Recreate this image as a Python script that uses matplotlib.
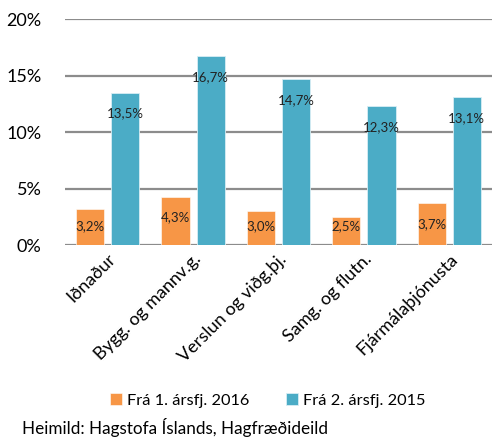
import numpy as np
from matplotlib import pyplot as plt

plt.rcParams['font.family'] = ['Lato', 'DejaVu Sans']

categories = ["Iðnaður", "Bygg. og mannv.g.", "Verslun og viðg.þj.",
              "Samg. og flutn.", "Fjármálaþjónusta"]
fra_2016 = [3.2, 4.3, 3.0, 2.5, 3.7]
fra_2015 = [13.5, 16.7, 14.7, 12.3, 13.1]
series_names = ["Frá 1. ársfj. 2016", "Frá 2. ársfj. 2015"]
yticks = [0, 5, 10, 15, 20]

orange = "#F79646"
blue = "#4BACC6"

fig = plt.figure(figsize=(4.96, 4.37), dpi=100)
ax = fig.add_axes([0.131, 0.439, 0.861, 0.5175])

x = np.arange(len(categories))
w = 0.33
b1 = ax.bar(x - 0.205, fra_2016, w, color=orange, edgecolor="white", linewidth=0.4,
            label=series_names[0], zorder=3)
b2 = ax.bar(x + 0.205, fra_2015, w, color=blue, edgecolor="#d8eef4", linewidth=0.6,
            label=series_names[1], zorder=3)

def lab(v):
    return f"{v:.1f}%".replace(".", ",")

# labels sit inside the top of the bar, clamped for short bars
for bars, vals in [(b1, fra_2016), (b2, fra_2015)]:
    for r, v in zip(bars, vals):
        yy = max(v - 1.86, 1.68)
        ax.text(r.get_x() + r.get_width() / 2, yy, lab(v), ha="center", va="center",
                fontsize=9.5, color="#222222", zorder=4)

ax.set_ylim(0, 20)
ax.set_xlim(-0.5, len(categories) - 0.5)
ax.set_yticks(yticks)
ax.set_yticklabels([f"{t}%" for t in yticks], fontsize=13)
ax.yaxis.grid(True, color="#8c8c8c", linewidth=1.6, zorder=0)
ax.set_axisbelow(True)
for s in ax.spines.values():
    s.set_visible(False)
ax.tick_params(length=0, pad=17)
ax.tick_params(axis="x", pad=4)
ax.set_xticks(x)
ax.set_xticklabels(categories, rotation=45, ha="right", rotation_mode="anchor",
                   fontsize=13)

fig.legend(handles=[b1, b2], loc="center", bbox_to_anchor=(0.54, 0.083), ncol=2,
           frameon=False, fontsize=11.8, handlelength=0.75, handleheight=0.75,
           handletextpad=0.3, columnspacing=2.2)
fig.text(0.044, 0.021, "Heimild: Hagstofa Íslands, Hagfræðideild", fontsize=12.3,
         ha="left", va="center")

fig.savefig("out.png", dpi=100)
